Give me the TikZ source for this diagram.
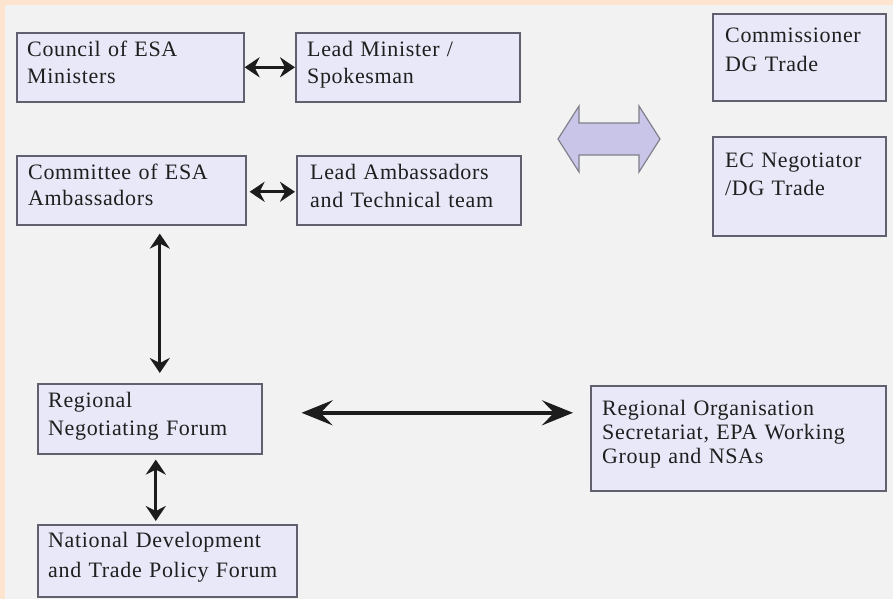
\documentclass[tikz,border=0pt]{standalone}
\usepackage{fontspec}
\setmainfont{Liberation Serif}[LetterSpace=3]
\usetikzlibrary{arrows.meta}
\definecolor{peach}{HTML}{FDE4CF}
\definecolor{bggray}{HTML}{F2F2F2}
\definecolor{boxfill}{HTML}{E8E8F8}
\definecolor{boxline}{HTML}{60606E}
\definecolor{hollowfill}{HTML}{C9C5E8}
\definecolor{arrowcol}{HTML}{1C1C1C}
\begin{document}
\begin{tikzpicture}[x=1pt,y=-1pt,
  box/.style={draw=boxline, fill=boxfill, line width=1.6pt, anchor=north west, inner sep=0pt},
  txt/.style={anchor=base west, inner sep=0pt, text width=300pt, align=left, text=black!88, font=\fontsize{22}{26.7}\selectfont},
  sarrow/.style={draw=arrowcol, line width=2.9pt, {Stealth[length=15pt,width=20pt,inset=5pt]}-{Stealth[length=15pt,width=20pt,inset=5pt]}},
  larrow/.style={draw=arrowcol, line width=3.8pt, {Stealth[length=31pt,width=25pt,inset=12pt]}-{Stealth[length=31pt,width=25pt,inset=12pt]}}
]
\useasboundingbox (0,0) rectangle (893,599);
\fill[peach] (0,0) rectangle (893,599);
\fill[bggray] (5,5) rectangle (893,599);

% boxes
\node[box, minimum width=227pt, minimum height=69pt] (council) at (16,32) {};
\node[box, minimum width=224pt, minimum height=69pt] (leadmin) at (295,32) {};
\node[box, minimum width=173pt, minimum height=87pt] (commiss) at (712,13) {};
\node[box, minimum width=173pt, minimum height=99pt] (ecneg) at (712,136) {};
\node[box, minimum width=229pt, minimum height=69pt] (committee) at (16,155) {};
\node[box, minimum width=224pt, minimum height=69pt] (leadamb) at (296,155) {};
\node[box, minimum width=224pt, minimum height=70pt] (regneg) at (37,383) {};
\node[box, minimum width=295pt, minimum height=105pt] (orgbox) at (590,385) {};
\node[box, minimum width=259pt, minimum height=72pt] (national) at (37,524) {};

% texts
\node[txt] (councilT) at (27,57) {Council of ESA\\Ministers};
\node[txt] (leadminT) at (307,57) {Lead Minister /\\Spokesman};
\node[txt, font=\fontsize{22}{29}\selectfont] (commissT) at (725,43) {Commissioner\\DG Trade};
\node[txt, font=\fontsize{22}{28}\selectfont] (ecnegT) at (725,167) {EC Negotiator\\/DG Trade};
\node[txt] (committeeT) at (28,179) {Committee of ESA\\Ambassadors};
\node[txt, font=\fontsize{22}{28}\selectfont] (leadambT) at (310,179) {Lead Ambassadors\\and Technical team};
\node[txt, font=\fontsize{22}{28}\selectfont] (regnegT) at (48,407) {Regional\\Negotiating Forum};
\node[txt, font=\fontsize{22}{24}\selectfont] (orgboxT) at (602,415) {Regional Organisation\\Secretariat, EPA Working\\Group and NSAs};
\node[txt, font=\fontsize{22}{30}\selectfont] (nationalT) at (48,547) {National Development\\and Trade Policy Forum};

% connectors
\draw[sarrow] (council.east) -- (leadmin.west);
\draw[sarrow, shorten <=3pt, shorten >=1pt] ([yshift=-1.5pt]committee.east) -- ([yshift=-1.5pt]committee.east -| leadamb.west);
\draw[sarrow, shorten <=8pt, shorten >=10pt] ([xshift=28.5pt]committee.south) -- ([xshift=28.5pt]committee.south |- regneg.north);
\draw[sarrow, shorten <=5pt, shorten >=3pt] ([xshift=6pt]regneg.south) -- ([xshift=6pt]regneg.south |- national.north);
\draw[larrow, shorten <=39pt, shorten >=17pt] ([yshift=6pt]regneg.east) -- ([yshift=6pt]regneg.east -| orgbox.west);

% hollow double arrow
\draw[draw=boxline!80, fill=hollowfill, line width=1.2pt, line join=miter]
  (558,139) -- (579,106) -- (579,123) -- (639,123) -- (639,106) -- (660,139)
  -- (639,172) -- (639,155) -- (579,155) -- (579,172) -- cycle;
\end{tikzpicture}
\end{document}
